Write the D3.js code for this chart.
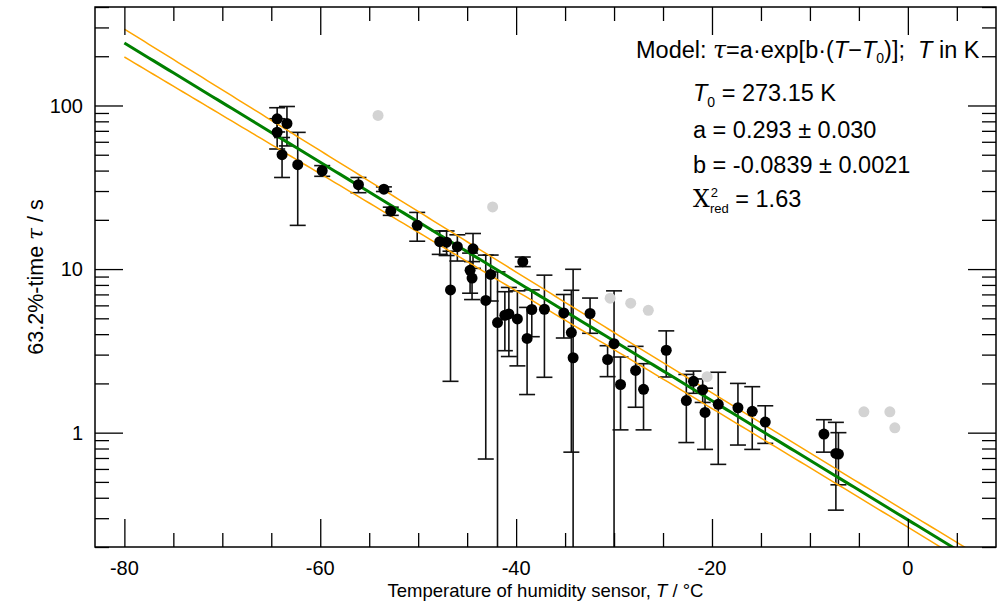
<!DOCTYPE html>
<html>
<head>
<meta charset="utf-8">
<script src="https://cdn.jsdelivr.net/npm/d3@7"></script>
<style>
  body { margin: 0; background: #fff; }
  svg text { font-family: "Liberation Sans", Arial, sans-serif; fill: #000; }
</style>
</head>
<body>
<svg id="chart" width="998" height="604"></svg>
<script>
// measured points (temperature in °C, 63.2% time in s, 1-sigma error in s)
const tempC = [-64.4, -63.4, -64.4, -63.9, -62.3, -59.8, -56.1, -53.5, -52.8, -50.1,
  -47.8, -47.1, -46.0, -44.4, -46.7, -44.7, -44.5, -42.6, -43.1, -41.9,
  -41.15, -40.74, -39.87, -39.32, -38.88, -38.4, -37.11, -35.13, -34.36, -34.18,
  -32.45, -30.66, -30.0, -29.34, -27.8, -26.99, -24.67, -22.62, -21.89, -20.95,
  -20.71, -19.36, -17.35, -15.89, -14.56, -8.57, -7.35, -7.09];
const tau = [82.9, 77.6, 68.6, 50.0, 43.5, 39.9, 32.8, 30.8, 22.6, 18.5,
  14.7, 14.6, 13.7, 13.3, 7.46, 9.82, 8.81, 9.28, 6.43, 4.71,
  5.22, 5.32, 4.96, 11.1, 3.77, 5.66, 5.68, 5.39, 4.09, 2.87,
  5.35, 2.80, 3.50, 1.97, 2.40, 1.84, 3.19, 1.57, 2.06, 1.83,
  1.33, 1.49, 1.42, 1.35, 1.16, 0.98, 0.746, 0.74];
const tauErr = [14, 21, 14.4, 13.7, 25, 3, 3.5, 1.0, 1.3, 3.7,
  2.4, 2.5, 2.5, 3.2, 5.4, 2.7, 2.3, 2.9, 5.74, 4.9,
  2.05, 2.4, 2.4, 0.75, 2.06, 1.8, 3.5, 1.6, 3.33, 7.1,
  1.3, 0.6, 3.86, 0.93, 0.97, 0.8, 1.0, 0.7, 0.32, 0.3,
  0.54, 0.85, 0.58, 0.56, 0.3, 0.22, 0.41, 0.26];

// points left out of the fit
const excludedT = [-54.1, -42.4, -30.4, -28.3, -26.5, -20.5, -4.49, -1.84, -1.33];
const excludedTau = [86.9, 24.0, 6.64, 6.19, 5.6, 2.2, 1.34, 1.34, 1.07];

// fit result
const fitA = 0.293, fitAErr = 0.030;
const fitB = -0.0839, fitBErr = 0.0021;
const chi2 = "1.63";

const xMajor = [-80, -60, -40, -20, 0];
const yMajor = [1, 10, 100];

const width = 998, height = 604;
const margin = { top: 7, right: 2, bottom: 57, left: 95 };

const svg = d3.select("#chart");
const x = d3.scaleLinear().domain([-83, 9]).range([margin.left, width - margin.right]);
const y = d3.scaleLog().domain([0.2, 400]).range([height - margin.bottom, margin.top]);
const [x0, x1] = x.range();
const [y0, y1] = y.range();

svg.append("clipPath").attr("id", "plot-clip")
  .append("rect").attr("x", x0).attr("y", y1).attr("width", x1 - x0).attr("height", y0 - y1);

const plot = svg.append("g").attr("clip-path", "url(#plot-clip)");

const points = tempC.map((t, i) => ({ t, v: tau[i], e: tauErr[i] }));

// error bars
const capW = 8;
const bars = plot.append("g").attr("stroke", "#111").attr("stroke-width", 1.6).attr("fill", "none");
points.forEach(d => {
  const top = y(d.v + d.e);
  const lo = d.v - d.e;
  const bot = lo > 0 ? y(lo) : y0 + 10;
  const cx = x(d.t);
  bars.append("line").attr("x1", cx).attr("x2", cx).attr("y1", top).attr("y2", bot);
  bars.append("line").attr("x1", cx - capW).attr("x2", cx + capW).attr("y1", top).attr("y2", top);
  if (lo > 0) {
    bars.append("line").attr("x1", cx - capW).attr("x2", cx + capW).attr("y1", bot).attr("y2", bot);
  }
});

// excluded points
plot.append("g").selectAll("circle")
  .data(excludedT.map((t, i) => ({ t, v: excludedTau[i] })))
  .join("circle")
  .attr("cx", d => x(d.t)).attr("cy", d => y(d.v)).attr("r", 5.5)
  .attr("fill", "#d3d3d3");

// model and its uncertainty band
const fitT = d3.range(-80, 9.01, 0.5);
const model = t => fitA * Math.exp(fitB * t);
const sigmaLn = t => Math.sqrt((fitAErr / fitA) ** 2 + (t * fitBErr) ** 2);
const line = d3.line().x(d => x(d[0])).y(d => y(d[1]));

plot.append("path")
  .datum(fitT.map(t => [t, model(t) * Math.exp(sigmaLn(t))]))
  .attr("d", line).attr("fill", "none").attr("stroke", "#ffa500").attr("stroke-width", 1.5);
plot.append("path")
  .datum(fitT.map(t => [t, model(t) * Math.exp(-sigmaLn(t))]))
  .attr("d", line).attr("fill", "none").attr("stroke", "#ffa500").attr("stroke-width", 1.5);
plot.append("path")
  .datum(fitT.map(t => [t, model(t)]))
  .attr("d", line).attr("fill", "none").attr("stroke", "#008000").attr("stroke-width", 3);

// measured points
plot.append("g").selectAll("circle")
  .data(points)
  .join("circle")
  .attr("cx", d => x(d.t)).attr("cy", d => y(d.v)).attr("r", 5.5)
  .attr("fill", "#000");

// axes: ticks point inward on all four sides, labels drawn separately
const majorLen = 28, minorLen = 14;
const xMinor = d3.range(-80, 9, 5).filter(v => !xMajor.includes(v));
const yMinor = [];
[0.1, 1, 10, 100].forEach(dec => d3.range(2, 10).forEach(k => {
  const v = k * dec;
  if (v >= 0.2 && v <= 400) yMinor.push(+v.toPrecision(3));
}));

function styleAxis(g) {
  g.select(".domain").remove();
  g.selectAll(".tick line").attr("stroke", "#000").attr("stroke-width", 1.3);
  g.selectAll(".tick text").remove();
}

const axes = [
  [d3.axisBottom(x), `translate(0,${y0})`, xMajor, xMinor],
  [d3.axisTop(x), `translate(0,${y1})`, xMajor, xMinor],
  [d3.axisLeft(y), `translate(${x0},0)`, yMajor, yMinor],
  [d3.axisRight(y), `translate(${x1},0)`, yMajor, yMinor]
];
axes.forEach(([axis, tr, major, minor]) => {
  svg.append("g").attr("transform", tr)
    .call(axis.tickValues(major).tickSize(-majorLen)).call(styleAxis);
  svg.append("g").attr("transform", tr)
    .call(axis.tickValues(minor).tickSize(-minorLen)).call(styleAxis);
});

svg.append("rect")
  .attr("x", x0).attr("y", y1).attr("width", x1 - x0).attr("height", y0 - y1)
  .attr("fill", "none").attr("stroke", "#000").attr("stroke-width", 1.5);

// tick labels
svg.append("g").selectAll("text")
  .data(xMajor)
  .join("text")
  .attr("x", d => x(d)).attr("y", 575)
  .attr("text-anchor", "middle").style("font-size", "20px")
  .text(d => String(d));
svg.append("g").selectAll("text")
  .data(yMajor)
  .join("text")
  .attr("x", x0 - 12).attr("y", d => y(d)).attr("dy", "0.36em")
  .attr("text-anchor", "end").style("font-size", "20px")
  .text(d => String(d));

// axis titles
const xTitle = svg.append("text")
  .attr("x", (x0 + x1) / 2).attr("y", 597)
  .attr("text-anchor", "middle").style("font-size", "18.5px");
xTitle.append("tspan").text("Temperature of humidity sensor, ");
xTitle.append("tspan").style("font-style", "italic").text("T");
xTitle.append("tspan").text(" / °C");

const yTitle = svg.append("text")
  .attr("transform", `translate(43,${(y0 + y1) / 2}) rotate(-90)`)
  .attr("text-anchor", "middle").style("font-size", "21.5px");
yTitle.append("tspan").text("63.2%-time ");
yTitle.append("tspan").style("font-family", "'DejaVu Serif', serif").style("font-style", "italic").text("τ");
yTitle.append("tspan").text(" / s");

// fit annotation
const ann = svg.append("g").style("font-size", "23.5px");
const m = ann.append("text").attr("x", 636).attr("y", 58);
m.append("tspan").text("Model: ");
m.append("tspan").style("font-family", "'DejaVu Serif', serif").style("font-style", "italic").text("τ");
m.append("tspan").text("=a·exp[b·(");
m.append("tspan").style("font-style", "italic").text("T");
m.append("tspan").text("−");
m.append("tspan").style("font-style", "italic").text("T");
m.append("tspan").attr("dy", 5).style("font-size", "14px").text("0");
m.append("tspan").attr("dy", -5).text(")];\u00a0 ");
m.append("tspan").style("font-style", "italic").text("T");
m.append("tspan").text(" in K");

const t0 = ann.append("text").attr("x", 693).attr("y", 101);
t0.append("tspan").style("font-style", "italic").text("T");
t0.append("tspan").attr("dy", 6).style("font-size", "14px").text("0");
t0.append("tspan").attr("dy", -6).text(" = 273.15 K");

ann.append("text").attr("x", 693).attr("y", 138)
  .text(`a = ${fitA.toFixed(3)} ± ${fitAErr.toFixed(3)}`);
ann.append("text").attr("x", 693).attr("y", 173)
  .text(`b = ${fitB.toFixed(4)} ± ${fitBErr.toFixed(4)}`);

const c = ann.append("text").attr("x", 693).attr("y", 207);
c.append("tspan").style("font-family", "'DejaVu Serif', serif").text("Χ");
c.append("tspan").attr("dx", 1).attr("dy", -10).style("font-size", "13px").text("2");
c.append("tspan").attr("dx", -8).attr("dy", 16).style("font-size", "13px").text("red");
c.append("tspan").attr("dy", -6).text(` = ${chi2}`);
</script>
</body>
</html>
